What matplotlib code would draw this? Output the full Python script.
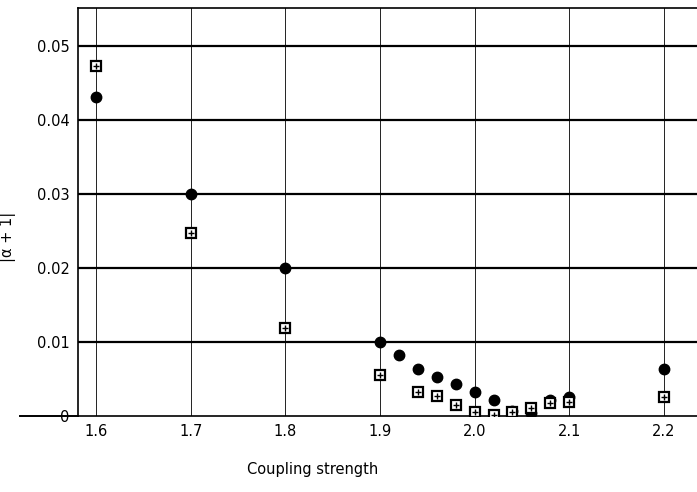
from matplotlib import pyplot as plt

# coupling strength values and |alpha+1| for both series
x_vals = [1.6, 1.7, 1.8, 1.9, 1.92, 1.94, 1.96, 1.98, 2.0, 2.02, 2.04, 2.06, 2.08, 2.1, 2.2]
circles = [0.043, 0.030, 0.020, 0.010, 0.0083, 0.0063, 0.0053, 0.0043, 0.0032, 0.0022,
           0.0007, 0.0004, 0.0021, 0.0025, 0.0063]
sq_x = [1.6, 1.7, 1.8, 1.9, 1.94, 1.96, 1.98, 2.0, 2.02, 2.04, 2.06, 2.08, 2.1, 2.2]
squares = [0.0473, 0.0247, 0.0119, 0.0055, 0.0032, 0.0027, 0.0015, 0.0005, 0.0001,
           0.0006, 0.0011, 0.0017, 0.0019, 0.0026]
xticks = [1.6, 1.7, 1.8, 1.9, 2.0, 2.1, 2.2]
yticks = [0, 0.01, 0.02, 0.03, 0.04, 0.05]
ytick_labels = ['0', '0.01', '0.02', '0.03', '0.04', '0.05']

fig = plt.figure(figsize=(6.97, 4.92), dpi=100)
ax = fig.add_axes([0.112, 0.1545, 0.888, 0.8295])

# grid
for v in xticks:
	ax.axvline(v, color='#222222', lw=0.7, zorder=1)
for h in yticks[1:]:
	ax.axhline(h, color='black', lw=1.6, zorder=1)

ax.plot(x_vals, circles, 'o', color='black', ms=7.5, zorder=3)
ax.plot(sq_x, squares, 's', mfc='white', mec='black', mew=1.6, ms=6.5, zorder=4)
ax.plot(sq_x, squares, '+', color='black', mew=1.0, ms=4.5, zorder=5)

ax.set_xlim(1.581, 2.235)
ax.set_ylim(0, 0.0551)
ax.set_xticks(xticks)
ax.set_xticklabels([str(t) for t in xticks], fontsize=10.5)
ax.set_yticks(yticks)
ax.set_yticklabels(ytick_labels, fontsize=10.5)
ax.tick_params(length=0, pad=6)

ax.spines['right'].set_visible(False)
for s in ['left', 'bottom', 'top']:
	ax.spines[s].set_linewidth(1.2)

# baseline sticks out to the left
ax.plot([-0.094, 0], [0, 0], transform=ax.transAxes, color='black', lw=1.4, clip_on=False)

ax.set_ylabel('|α + 1|', fontsize=10.5)
ax.yaxis.set_label_coords(-0.1, 0.44)
fig.text(0.449, 0.045, 'Coupling strength', ha='center', va='center', fontsize=10.5)

fig.savefig('out.png', dpi=100)
